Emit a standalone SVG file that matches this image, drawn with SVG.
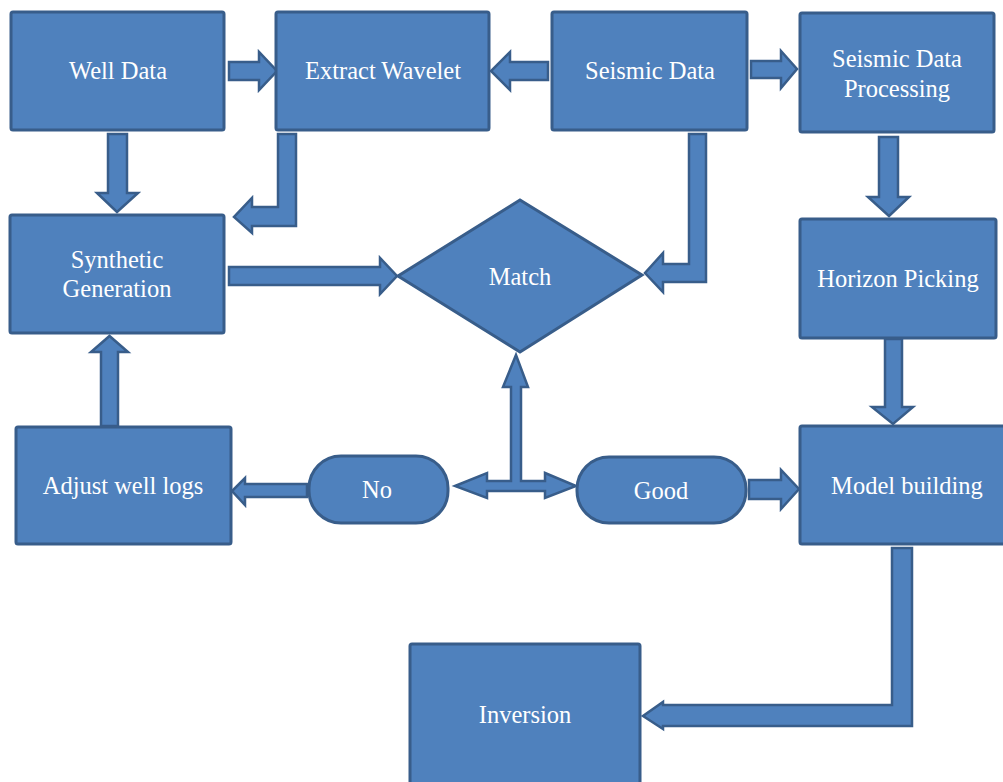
<svg xmlns="http://www.w3.org/2000/svg" width="1003" height="782" viewBox="0 0 1003 782">
<style>
.n{fill:#4F81BD;stroke:#385D8A;stroke-width:3}
.a{fill:#4F81BD;stroke:#385D8A;stroke-width:2.5;stroke-linejoin:miter}
.t{font-family:'Liberation Serif','DejaVu Serif',serif;font-size:24.5px;fill:#FFFFFF;text-anchor:middle}
</style>
<rect width="1003" height="782" fill="#FFFFFF"/>
<g id="connectors">
<path class="a" d="M229,62 H259 V52 L277,71 L259,90 V80 H229 Z"/>
<path class="a" d="M548,62 H510 V52 L491,71 L510,90 V80 H548 Z"/>
<path class="a" d="M751,61 H781 V51 L797,69 L781,88 V78 H751 Z"/>
<path class="a" d="M108,134 H127 V193 H138 L117,212 L97,193 H108 Z"/>
<path class="a" d="M296,134 V226 H252 V233 L234,217 L252,198 V207 H278 V134 Z"/>
<path class="a" d="M229,267 H380 V258 L397,276 L380,294 V285 H229 Z"/>
<path class="a" d="M689,134 H706 V282 H663 V292 L645,273 L663,253 V264 H689 Z"/>
<path class="a" d="M879,137 H898 V197 H909 L889,216 L868,197 H879 Z"/>
<path class="a" d="M885,339 H902 V407 H913 L893,424 L872,407 H885 Z"/>
<path class="a" d="M101,426 V352 H91 L109.5,336 L128,352 H118 V426 Z"/>
<path class="a" d="M307,484 V497 H245 V505 L232,491 L245,478 V484 Z"/>
<path class="a" d="M455,486 L487,473 V481 H511 V387 H503 L516,355 L528,387 H521 V481 H545 V473 L576,486 L545,498 V491 H487 V498 Z"/>
<path class="a" d="M749,480 H781 V470 L799,489 L781,509 V499 H749 Z"/>
<path class="a" d="M892,548 H912 V726 H663 V729 L643,716 L663,702 V705 H892 Z"/>
</g>
<g id="well-data"><rect class="n" x="11" y="12" width="213" height="118" rx="2"/><text class="t" x="118" y="79">Well Data</text></g>
<g id="extract-wavelet"><rect class="n" x="276" y="12" width="213" height="118" rx="2"/><text class="t" x="383" y="79">Extract Wavelet</text></g>
<g id="seismic-data"><rect class="n" x="552" y="12" width="195" height="118" rx="2"/><text class="t" x="650" y="79">Seismic Data</text></g>
<g id="seismic-data-processing"><rect class="n" x="800" y="13" width="194" height="119" rx="2"/><text class="t" x="897" y="67">Seismic Data</text><text class="t" x="897" y="97">Processing</text></g>
<g id="synthetic-generation"><rect class="n" x="10" y="215" width="214" height="118" rx="2"/><text class="t" x="117" y="268">Synthetic</text><text class="t" x="117" y="297">Generation</text></g>
<g id="match"><polygon class="n" points="520,200 642,275 520,352 398,276"/><text class="t" x="520" y="285">Match</text></g>
<g id="horizon-picking"><rect class="n" x="800" y="219" width="196" height="119" rx="2"/><text class="t" x="898" y="287">Horizon Picking</text></g>
<g id="model-building"><rect class="n" x="800" y="426" width="210" height="118" rx="2"/><text class="t" x="907" y="494">Model building</text></g>
<g id="adjust-well-logs"><rect class="n" x="16" y="427" width="215" height="117" rx="2"/><text class="t" x="123" y="494">Adjust well logs</text></g>
<g id="no"><rect class="n" x="309" y="456" width="139" height="67" rx="32"/><text class="t" x="377" y="498">No</text></g>
<g id="good"><rect class="n" x="577" y="457" width="169" height="66" rx="32"/><text class="t" x="661" y="499">Good</text></g>
<g id="inversion"><rect class="n" x="410" y="644" width="230" height="150" rx="2"/><text class="t" x="525" y="723">Inversion</text></g>
</svg>
